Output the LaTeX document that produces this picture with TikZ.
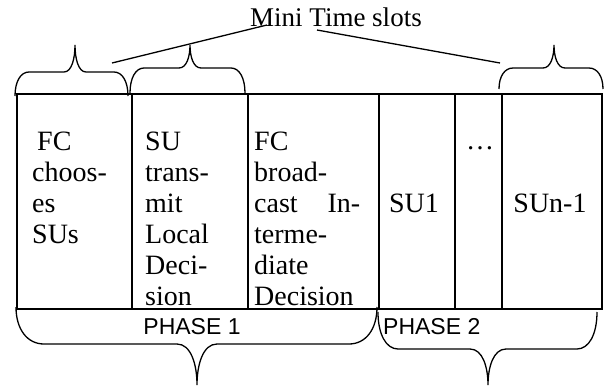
\documentclass[tikz,border=0pt]{standalone}
\usepackage{fontspec}
\setmainfont{Liberation Serif}
\newfontfamily\phasefont{Liberation Sans}
\usetikzlibrary{positioning}

% curly brace: #1 left x, #2 end y, #3 tip x, #4 tip y, #5 right x, #6 flat y, #7 end width, #8 tip width
\newcommand\slotbrace[8]{%
\draw[brc] (#1,#2) .. controls (#1,{#2+0.6*(#6-#2)}) and ({#1+0.4*#7},#6) .. ({#1+#7},#6)
 -- ({#3-#8},#6) .. controls ({#3-0.3*#8},#6) and (#3,{#6+0.5*(#4-#6)}) .. (#3,#4)
 .. controls (#3,{#6+0.5*(#4-#6)}) and ({#3+0.3*#8},#6) .. ({#3+#8},#6)
 -- ({#5-#7},#6) .. controls ({#5-0.4*#7},#6) and (#5,{#2+0.6*(#6-#2)}) .. (#5,#2);}

\begin{document}
\begin{tikzpicture}[x=1pt,y=-1pt,
cell/.style={line width=2pt},
brc/.style={line width=1.3pt},
txt/.style={font=\fontsize{28}{31}\selectfont,inner sep=0pt,align=left,anchor=north west},
lbl/.style={font=\fontsize{28}{31}\selectfont,inner sep=0pt,anchor=base},
phs/.style={font=\phasefont\fontsize{23}{26}\selectfont,inner sep=0pt,anchor=base}]

\useasboundingbox (0,0) rectangle (608,388);

% frame of the slots
\draw[cell] (17,94) rectangle (602,309);
\foreach \x in {132,248,379,455,502}
  \draw[cell] (\x,94) -- (\x,309);

% slot texts
\node[txt] (fc) at (32,132) {\hspace{5pt}FC\\choos-\\es\\SUs};
\node[txt] (su) at (145,132) {SU\\trans-\\mit\\Local\\Deci-\\sion};
\node[txt,text width=106pt] (bc) at (254,132) {FC\\broad-\\cast\hfill In-\\terme-\\diate\\Decision};
\node[lbl] (su1) at (414,212) {SU1};
\node[lbl] (dots) at (480,149) {\dots};
\node[lbl] (sun) at (550,212) {SUn-1};

% mini time slots
\node[lbl,font=\fontsize{27}{31}\selectfont,anchor=base west] (mts) at (250,26) {Mini Time slots};
\coordinate (m1) at (267,25);
\coordinate (m2) at (317,30);
\coordinate (b1) at (112,63);
\coordinate (b3) at (500,63);
\draw[brc] (b1) -- (m1);
\draw[brc] (m2) -- (b3);
\slotbrace{15}{96}{75}{45}{128}{72}{14}{11}
\slotbrace{130}{93}{190}{45}{245}{68}{14}{11}
\slotbrace{499}{89}{554}{45}{603}{68}{14}{11}

% phases
\slotbrace{16}{307}{197}{385}{377}{344}{28}{20}
\slotbrace{378}{312}{488}{385}{597}{349}{20}{18}
\node[phs] (p1) at (192,334) {PHASE 1};
\node[phs,anchor=base west] (p2) at (383,334) {PHASE 2};
\end{tikzpicture}
\end{document}
